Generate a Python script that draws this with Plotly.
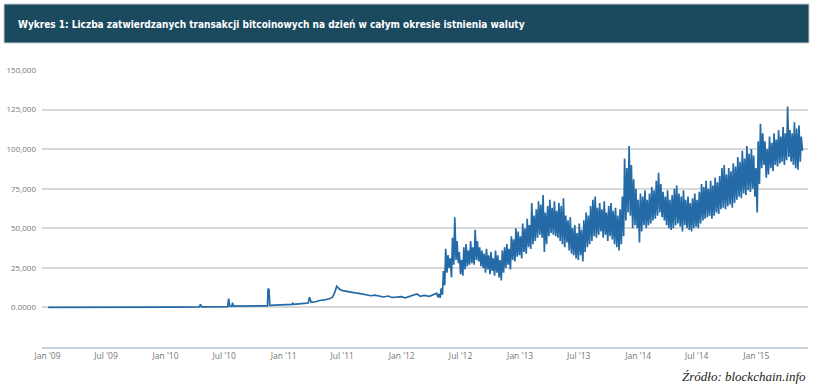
import pandas as pd
import plotly.graph_objects as go

# ---- data (thousands of transactions per day) ----
early_dates = [
    "2009-01-03", "2009-03-01", "2009-06-01", "2009-09-01", "2009-12-01",
    "2010-02-01", "2010-04-15", "2010-04-19", "2010-04-22", "2010-06-01",
    "2010-07-12", "2010-07-15", "2010-07-18", "2010-07-25", "2010-07-27",
    "2010-07-30", "2010-09-10", "2010-10-20", "2010-11-12", "2010-11-14",
    "2010-11-17", "2010-11-19", "2010-12-10", "2011-01-05", "2011-01-27",
    "2011-01-29", "2011-02-02", "2011-02-25", "2011-03-18", "2011-03-22",
    "2011-03-27", "2011-04-10", "2011-04-22", "2011-05-08", "2011-05-23",
    "2011-06-01", "2011-06-07", "2011-06-14", "2011-06-19", "2011-06-23",
    "2011-07-02", "2011-07-16", "2011-07-28", "2011-08-10", "2011-08-22",
    "2011-09-03", "2011-09-15", "2011-09-28", "2011-10-10", "2011-10-25",
    "2011-11-06", "2011-11-20", "2011-12-02", "2011-12-16", "2011-12-30",
    "2012-01-12", "2012-01-25", "2012-02-04", "2012-02-17", "2012-02-28",
    "2012-03-10", "2012-03-27", "2012-04-08",
]
early_values = [
    0.0, 0.1, 0.1, 0.15, 0.2,
    0.25, 0.3, 1.9, 0.4, 0.45,
    0.5, 5.5, 0.9, 0.7, 3.0,
    0.8, 0.8, 0.9, 1.0, 12.0,
    11.0, 1.3, 1.5, 1.6, 1.9,
    2.6, 2.0, 2.4, 2.8, 6.5,
    3.2, 3.6, 4.4, 4.8, 5.5,
    6.5, 9.0, 13.3, 12.0, 11.5,
    10.6, 10.0, 9.6, 9.2, 8.9,
    8.4, 8.0, 7.4, 7.8, 6.9,
    6.6, 7.2, 6.3, 6.5, 6.8,
    6.1, 6.9, 7.5, 8.5, 7.0,
    7.6, 7.0, 8.2,
]

weekly_start = "2012-04-16"
weekly_high = [
    9, 8.5, 12, 23, 37, 33, 31, 44, 57, 42,
    35, 30, 38, 40, 36, 42, 38, 49, 42, 38,
    36, 34, 37, 33, 35, 31, 36, 33, 30, 36,
    38, 40, 37, 45, 43, 50, 48, 45, 53, 50,
    56, 52, 66, 58, 62, 67, 65, 71, 60, 64,
    68, 63, 67, 61, 66, 64, 69, 58, 55, 57,
    50, 52, 47, 53, 49, 55, 60, 58, 64, 68,
    70, 63, 66, 62, 67, 60, 64, 66, 61, 63,
    58, 62, 70, 94, 88, 102, 90, 81, 75, 68,
    72, 70, 74, 68, 72, 76, 74, 80, 85, 78,
    73, 70, 74, 68, 71, 75, 77, 72, 70, 74,
    68, 70, 66, 69, 72, 68, 73, 78, 76, 80,
    75, 80, 77, 82, 79, 83, 88, 90, 84, 88,
    86, 91, 89, 95, 92, 99, 94, 102, 97, 100,
    96, 88, 105, 116, 110, 105, 100, 108, 104, 110,
    106, 112, 108, 114, 110, 127, 112, 110, 117, 113,
    115, 108,
]
weekly_low = [
    6.5, 6, 8, 14, 22, 25, 19, 27, 30, 28,
    21, 20, 24, 26, 27, 28, 27, 30, 29, 26,
    25, 22, 24, 21, 23, 20, 22, 19, 17, 22,
    25, 27, 24, 30, 29, 32, 33, 31, 35, 34,
    38, 37, 40, 42, 44, 46, 44, 35, 40, 45,
    47, 46, 45, 44, 42, 40, 38, 41, 36, 34,
    33, 31, 30, 33, 29, 35, 38, 40, 42, 45,
    44, 46, 48, 44, 46, 42, 45, 43, 40, 38,
    36, 40, 45, 55, 60, 58, 50, 52, 50, 41,
    48, 52, 50, 52, 53, 55, 56, 58, 60, 57,
    55, 52, 50, 49, 50, 52, 53, 51, 48, 52,
    50, 49, 48, 50, 51, 50, 53, 55, 56, 57,
    58, 56, 58, 60, 59, 62, 63, 62, 64, 65,
    63, 66, 68, 70, 69, 72, 71, 74, 73, 75,
    70, 60, 78, 88, 90, 82, 84, 88, 86, 90,
    89, 91, 92, 90, 93, 95, 92, 90, 88, 87,
    92, 99,
]

y_tick_values = [0, 25000, 50000, 75000, 100000, 125000, 150000]
y_tick_labels = ["0.0000", "25,000", "50,000", "75,000", "100,000", "125,000", "150,000"]
x_tick_values = ["2009-01-01", "2009-07-01", "2010-01-01", "2010-07-01", "2011-01-01",
                 "2011-07-01", "2012-01-01", "2012-07-01", "2013-01-01", "2013-07-01",
                 "2014-01-01", "2014-07-01", "2015-01-01"]
x_tick_labels = ["Jan '09", "Jul '09", "Jan '10", "Jul '10", "Jan '11", "Jul '11", "Jan '12",
                 "Jul '12", "Jan '13", "Jul '13", "Jan '14", "Jul '14", "Jan '15"]

title_text = "Wykres 1: Liczba zatwierdzanych transakcji bitcoinowych na dzień w całym okresie istnienia waluty"
source_text = "Źródło: blockchain.info"

# ---- assemble series ----
dates = [pd.Timestamp(d) for d in early_dates]
values = [v * 1000 for v in early_values]
start = pd.Timestamp(weekly_start)
for i, (h, l) in enumerate(zip(weekly_high, weekly_low)):
    monday = start + pd.Timedelta(days=7 * i)
    dates.append(monday + pd.Timedelta(days=2))
    values.append(h * 1000)
    dates.append(monday + pd.Timedelta(days=6))
    values.append(l * 1000)

fig = go.Figure()
fig.add_trace(go.Scatter(x=dates, y=values, mode="lines",
                         line=dict(color="#236aa6", width=1.7),
                         hoverinfo="x+y"))

W, H = 815, 388
ml, mr, mt, mb = 42, 7, 70, 41
pw, ph = W - ml - mr, H - mt - mb


def px_x(x):
    return (x - ml) / pw


def px_y(y):
    return (H - mb - y) / ph


# title bar
fig.add_shape(type="rect", xref="paper", yref="paper",
              x0=px_x(4), x1=px_x(809), y0=px_y(43), y1=px_y(4),
              fillcolor="#1b4a5f", line=dict(color="#c8cdd0", width=1), layer="above")
fig.add_annotation(text="<b>" + title_text + "</b>", xref="paper", yref="paper",
                   x=px_x(16), y=px_y(24),
                   xanchor="left", yanchor="middle", showarrow=False,
                   font=dict(family="Liberation Sans Narrow, DejaVu Sans Condensed, sans-serif",
                             size=10, color="white"))
fig.add_annotation(text="<i>" + source_text + "</i>", xref="paper", yref="paper",
                   x=px_x(808), y=px_y(376),
                   xanchor="right", yanchor="middle", showarrow=False,
                   font=dict(family="Liberation Serif, DejaVu Serif, serif",
                             size=13, color="#222222"))

fig.update_layout(
    width=W, height=H,
    margin=dict(l=ml, r=mr, t=mt, b=mb, pad=0),
    paper_bgcolor="white", plot_bgcolor="white",
    showlegend=False,
    font=dict(family="Open Sans, sans-serif", size=8, color="#777777"),
    xaxis=dict(type="date", range=["2008-12-15", "2015-06-10"],
               tickvals=x_tick_values, ticktext=x_tick_labels,
               showgrid=False, zeroline=False,
               showline=True, linecolor="#c5d2dc", linewidth=1.5,
               ticks="", ticklabelstandoff=0,
               tickfont=dict(size=8.5, color="#777777")),
    yaxis=dict(range=[-25000, 150000], tickvals=y_tick_values, ticktext=y_tick_labels,
               showgrid=True, gridcolor="#d9d9d9", gridwidth=1.5,
               zeroline=False, showline=False, ticks="", ticklabelstandoff=5,
               tickfont=dict(size=8, color="#777777")),
)

fig.write_html("out.html", config={"displayModeBar": False},
               post_script="document.body.style.margin='0';")
